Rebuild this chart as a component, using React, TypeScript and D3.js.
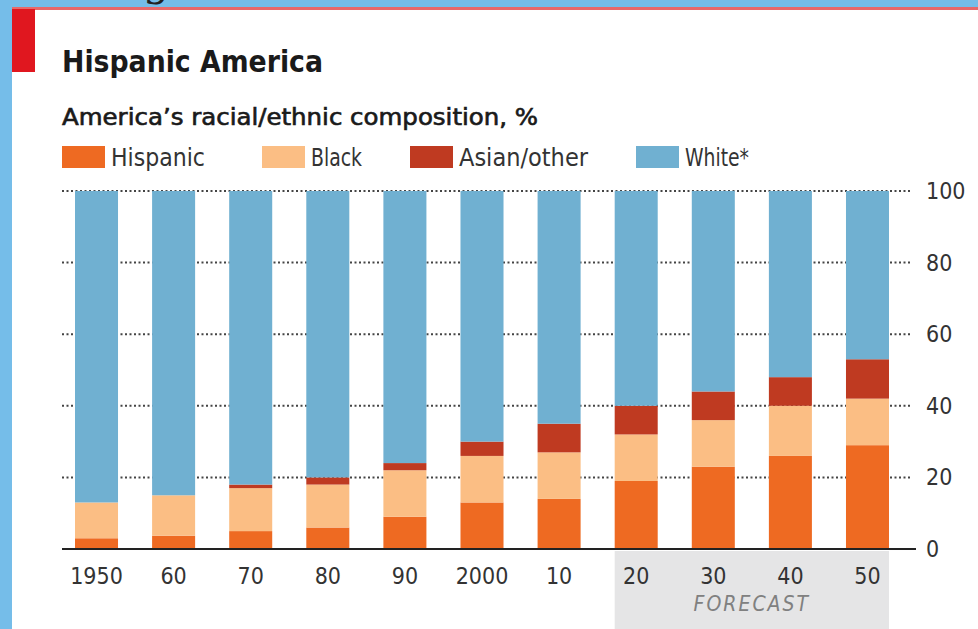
import * as d3 from "d3";

const years = ["1950", "60", "70", "80", "90", "2000", "10", "20", "30", "40", "50"];
const hispanic = [3, 3.7, 5, 6, 9, 13, 14, 19, 23, 26, 29];
const black = [10, 11.3, 12, 12, 13, 13, 13, 13, 13, 14, 13];
const asianOther = [0, 0, 1, 2, 2, 4, 8, 8, 8, 8, 11];
const yTicks = [0, 20, 40, 60, 80, 100];
const forecastYears = ["20", "30", "40", "50"];

const seriesNames = ["Hispanic", "Black", "Asian/other", "White*"];
const seriesColors = ["#ee6a22", "#fbbe84", "#bf3a21", "#70b0d1"];

const W = 978;
const H = 629;
const FONT = "'DejaVu Sans Condensed', 'DejaVu Sans', sans-serif";

export default function App() {
  // white = remainder to 100
  const rows = years.map((y, i) => ({
    year: y,
    Hispanic: hispanic[i],
    Black: black[i],
    "Asian/other": asianOther[i],
    "White*": 100 - hispanic[i] - black[i] - asianOther[i],
  }));

  const stack = d3.stack<any>().keys(seriesNames)(rows);

  const x = d3.scaleBand().domain(years).range([75, 889]).paddingInner(0.442).paddingOuter(0);
  const y = d3.scaleLinear().domain([0, 100]).range([549, 191]);

  const fx0 = x(forecastYears[0])!;
  const fx1 = x(forecastYears[forecastYears.length - 1])! + x.bandwidth();

  const legendX = [62, 262, 410, 636];
  const legendW = [94, 51, 129, 64];

  return (
    <svg
      width={W}
      height={H}
      style={{ position: "fixed", left: 0, top: 0, background: "#fff" }}
      fontFamily={FONT}
    >
      {/* frame */}
      <rect x={0} y={0} width={W} height={H} fill="#75bde9" />
      <rect x={12} y={9} width={W - 12} height={H - 9} fill="#fff" />
      <rect x={12} y={7} width={W - 12} height={3} fill="#e8686a" />
      <rect x={12} y={9} width={23} height={63} fill="#e0171f" />
      {/* descender of a cropped heading above */}
      <text x={143} y={-5} fontSize={42} fontFamily="'DejaVu Serif', serif" fill="#222">g</text>
      <rect x={0} y={0} width={12} height={H} fill="#75bde9" />

      {/* titles */}
      <text x={62} y={72} fontSize={30} fontWeight="bold" fill="#1a1a1a" textLength={261} lengthAdjust="spacingAndGlyphs">
        Hispanic America
      </text>
      <text
        x={62}
        y={125}
        fontSize={23}
        fill="#1a1a1a"
        stroke="#1a1a1a"
        strokeWidth={0.6}
        textLength={476}
        lengthAdjust="spacingAndGlyphs"
      >
        America’s racial/ethnic composition, %
      </text>

      {/* legend */}
      {seriesNames.map((s, i) => (
        <g key={s}>
          <rect x={legendX[i]} y={146} width={43} height={22} fill={seriesColors[i]} />
          <text x={legendX[i] + 49} y={166} fontSize={24} fill="#333" textLength={legendW[i]} lengthAdjust="spacingAndGlyphs">
            {s}
          </text>
        </g>
      ))}

      {/* forecast shading */}
      <rect x={fx0} y={551} width={fx1 - fx0} height={H - 551} fill="#e5e5e6" />
      <text
        x={(fx0 + fx1) / 2}
        y={611}
        fontSize={21}
        fontStyle="italic"
        fill="#808080"
        textAnchor="middle"
        letterSpacing={2}
      >
        FORECAST
      </text>

      {/* gridlines */}
      {yTicks.filter((t) => t > 0).map((t) => (
        <line key={t} x1={62} x2={912} y1={y(t)} y2={y(t)} stroke="#444" strokeWidth={2} strokeDasharray="2,2.5" />
      ))}

      {/* bars */}
      {stack.map((layer, li) => (
        <g key={layer.key} fill={seriesColors[li]}>
          {layer.map((d, i) => (
            <rect
              key={i}
              x={x(years[i])}
              y={y(d[1])}
              width={x.bandwidth()}
              height={Math.max(0, y(d[0]) - y(d[1]))}
            />
          ))}
        </g>
      ))}

      {/* baseline */}
      <line x1={62} x2={916} y1={y(0)} y2={y(0)} stroke="#222" strokeWidth={2} />

      {/* y tick labels */}
      {yTicks.map((t) => (
        <text key={t} x={926} y={y(t) + 8} fontSize={23} fill="#333">
          {t}
        </text>
      ))}

      {/* x labels */}
      {years.map((yr) => (
        <text key={yr} x={x(yr)! + x.bandwidth() / 2} y={584} fontSize={23} fill="#333" textAnchor="middle">
          {yr}
        </text>
      ))}
    </svg>
  );
}
